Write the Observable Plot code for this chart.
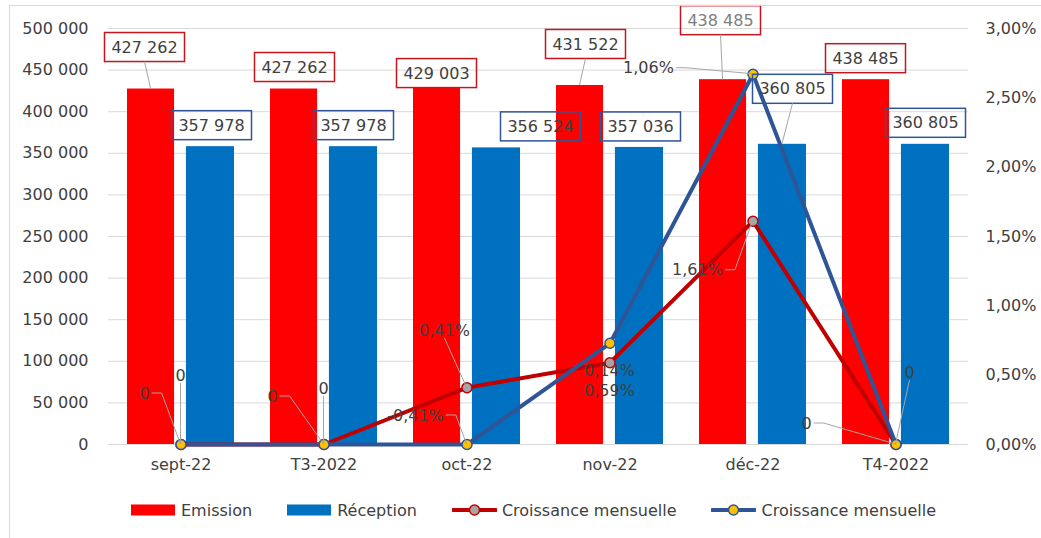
<!DOCTYPE html>
<html>
<head>
<meta charset="utf-8">
<script src="https://cdn.jsdelivr.net/npm/d3@7"></script>
<script src="https://cdn.jsdelivr.net/npm/@observablehq/plot@0.6"></script>
<style>
  html, body { margin: 0; padding: 0; background: #fff; }
  body { width: 1041px; height: 538px; overflow: hidden; position: relative; font-family: "DejaVu Sans", sans-serif; }
  #frame { position: absolute; left: 9px; top: 5px; width: 1100px; height: 600px; border: 1px solid #d9d9d9; z-index: 10; pointer-events: none; }
  #chart svg { display: block; background: transparent; }
  #legend { position: absolute; left: 131px; top: 495px; height: 30px; display: flex; align-items: center; gap: 35px; font-size: 16px; color: #404040; }
  .item { display: flex; align-items: center; gap: 5px; white-space: nowrap; }
</style>
</head>
<body>
<div id="frame"></div>
<div id="chart"></div>
<div id="legend"></div>
<script>
// ---- data ----
const categories = ["sept-22", "T3-2022", "oct-22", "nov-22", "déc-22", "T4-2022"];
const emission = [427262, 427262, 429003, 431522, 438485, 438485];
const reception = [357978, 357978, 356524, 357036, 360805, 360805];
const croissanceEmission = [0, 0, 0.0041, 0.0059, 0.0161, 0];
const croissanceReception = [0, 0, 0, 0.0073, 0.0267, 0];
const labelsCroissanceEmission = ["0", "0", "0,41%", "0,59%", "1,61%", "0"];
const labelsCroissanceReception = ["0", "0", "-0,41%", "0,14%", "1,06%", "0"];
const leftTicks = [0, 50000, 100000, 150000, 200000, 250000, 300000, 350000, 400000, 450000, 500000];
const rightTicks = [0, 0.005, 0.01, 0.015, 0.02, 0.025, 0.03];
const seriesNames = ["Emission", "Réception", "Croissance mensuelle", "Croissance mensuelle"];

// ---- layout (label offsets in px relative to anchor: [dx, dy, leader]) ----
const offEmission = [[-36, -41.5, true], [-29, -21.5, false], [-30, -14, false], [-24, -41, true], [-32, -59, true], [-30, -21, false]];
const offReception = [[31, -21, false], [30, -21, false], [74, -21, false], [31, -20.5, false], [40, -55, true], [30, -21, false]];
const offLineE = [[-36, -51, true], [-51, -48, true], [-22, -57, true], [0, 28, false], [-55, 49, true], [-89, -21, true]];
const offLineR = [[0, -69, true], [0, -56, true], [-51, -29, true], [0, 28, false], [-104, -6, true], [14, -72, true]];

const W = 1041, H = 480, mL = 108, mR = 73, mT = 28, mB = 36;
const F = 500000 / 0.03; // right-axis value -> left-axis units
const step = (W - mL - mR) / categories.length;
const pIn = 0.254;
const bw = step * (1 - pIn);
const redW = 47, blueW = 48;

const fmtN = d => d3.format(",")(d).replace(/,/g, " ");
const fmtP = d => (d * 100).toFixed(2).replace(".", ",") + "%";

const rows = categories.map((c, i) => ({
  cat: c, emission: emission[i], reception: reception[i],
  ce: croissanceEmission[i] * F, cr: croissanceReception[i] * F
}));

const RED = "#ff0000", BLUE = "#0070c0", LRED = "#c00000", LBLUE = "#2f5597";

const plot = Plot.plot({
  width: W, height: H,
  marginLeft: mL, marginRight: mR, marginTop: mT, marginBottom: mB,
  style: { fontFamily: "DejaVu Sans, sans-serif", fontSize: "16px", color: "#404040", background: "transparent" },
  x: { domain: categories, paddingInner: pIn, paddingOuter: pIn / 2, label: null },
  y: { domain: [0, 500000], label: null },
  marks: [
    Plot.gridY(leftTicks, { stroke: "#d9d9d9", strokeOpacity: 1, strokeWidth: 1 }),
    Plot.barY(rows, { x: "cat", y: "emission", fill: RED, insetRight: bw - redW }),
    Plot.barY(rows, { x: "cat", y: "reception", fill: BLUE, insetLeft: bw - blueW }),
    Plot.axisY(leftTicks, { anchor: "left", tickSize: 0, tickPadding: 20, tickFormat: fmtN, label: null }),
    Plot.axisY(rightTicks.map(p => p * F), { anchor: "right", tickSize: 0, tickPadding: 17, tickFormat: d => fmtP(d / F), label: null }),
    Plot.axisX({ tickSize: 0, tickPadding: 14, label: null }),
    Plot.line(rows, { x: "cat", y: "ce", stroke: LRED, strokeWidth: 4 }),
    Plot.line(rows, { x: "cat", y: "cr", stroke: LBLUE, strokeWidth: 4 }),
    Plot.dot(rows, { x: "cat", y: "ce", r: 5, fill: "#a5a5a5", stroke: LRED, strokeWidth: 1.5 }),
    Plot.dot(rows, { x: "cat", y: "cr", r: 5, fill: "#ffc000", stroke: LBLUE, strokeWidth: 1.5 })
  ]
});
document.getElementById("chart").appendChild(plot);

// ---- data labels using Plot's scales ----
const xs = plot.scale("x"), ys = plot.scale("y");
const cx = c => xs.apply(c) + xs.bandwidth / 2;
const svg = d3.select(plot);
const gL = svg.append("g").attr("font-family", "DejaVu Sans, sans-serif").attr("font-size", 16);

function addLabel(text, ax, ay, off, opts) {
  const [dx, dy, lead] = off;
  const lx = ax + dx, ly = ay + dy;
  const t = gL.append("text").attr("x", lx).attr("y", ly).attr("dy", "0.35em")
    .attr("text-anchor", "middle").attr("fill", opts.color || "#404040").text(text);
  const w = t.node().getComputedTextLength();
  const padX = opts.box ? 7.5 : 2, hh = opts.box ? 14.5 : 8;
  const hw = w / 2 + padX;
  if (opts.box) {
    gL.insert("rect", "text").attr("x", lx - 40).attr("y", ly - hh).attr("width", 80).attr("height", 2 * hh)
      .attr("fill", "none").attr("stroke", opts.box).attr("stroke-width", 1.5);
  }
  if (lead) {
    let d;
    if (Math.abs(ax - lx) > hw + 10) {
      const s = Math.sign(ax - lx);
      const sx = lx + s * hw;
      d = `M${sx},${ly}L${sx + s * 10},${ly}L${ax},${ay}`;
    } else {
      const s = Math.sign(ay - ly);
      d = `M${lx},${ly + s * hh}L${ax},${ay}`;
    }
    gL.insert("path", "text").attr("d", d).attr("fill", "none").attr("stroke", "#a6a6a6").attr("stroke-width", 1);
  }
}

categories.forEach((c, i) => {
  const x0 = cx(c);
  // bar labels
  const redC = x0 - bw / 2 + redW / 2, blueC = x0 + bw / 2 - blueW / 2;
  addLabel(fmtN(emission[i]), redC, ys.apply(emission[i]),
    [x0 + offEmission[i][0] - redC, offEmission[i][1], offEmission[i][2]],
    { box: "#c5161d", color: i === 4 ? "#7f7f7f" : "#404040" });
  addLabel(fmtN(reception[i]), blueC, ys.apply(reception[i]),
    [x0 + offReception[i][0] - blueC, offReception[i][1], offReception[i][2]],
    { box: "#2f5597" });
});
categories.forEach((c, i) => {
  const x0 = cx(c);
  addLabel(labelsCroissanceEmission[i], x0, ys.apply(croissanceEmission[i] * F), offLineE[i], {});
  addLabel(labelsCroissanceReception[i], x0, ys.apply(croissanceReception[i] * F), offLineR[i], {});
});

// ---- legend ----
const legend = d3.select("#legend");
const swatches = [
  { type: "rect", color: RED },
  { type: "rect", color: BLUE },
  { type: "line", color: LRED, dot: "#a5a5a5" },
  { type: "line", color: LBLUE, dot: "#ffc000" }
];
swatches.forEach((s, i) => {
  const it = legend.append("div").attr("class", "item");
  const sv = it.append("svg").attr("width", 45).attr("height", 14);
  if (s.type === "rect") {
    sv.append("rect").attr("x", 0).attr("y", 1.5).attr("width", 44).attr("height", 11).attr("fill", s.color);
  } else {
    sv.append("line").attr("x1", 1).attr("x2", 44).attr("y1", 7).attr("y2", 7).attr("stroke", s.color).attr("stroke-width", 4).attr("stroke-linecap", "round");
    sv.append("circle").attr("cx", 22.5).attr("cy", 7).attr("r", 5).attr("fill", s.dot).attr("stroke", s.color).attr("stroke-width", 1.5);
  }
  it.append("span").text(seriesNames[i]);
});
</script>
</body>
</html>
